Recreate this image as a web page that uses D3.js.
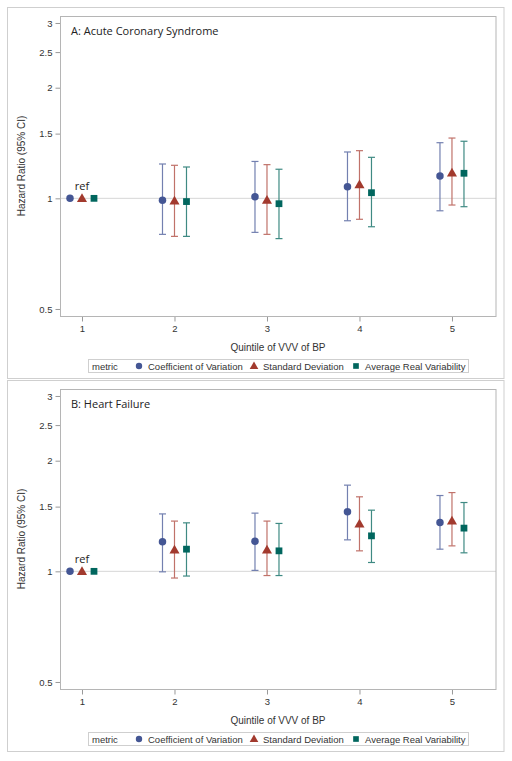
<!DOCTYPE html>
<html><head><meta charset="utf-8">
<script src="https://cdn.jsdelivr.net/npm/d3@7"></script>
<style>body{margin:0;background:#fff;} svg{display:block;}</style>
</head><body>
<svg id="chart" width="512" height="761"></svg>
<script>
// ---- data ----
const quintiles = [1, 2, 3, 4, 5];
const metrics = ["Coefficient of Variation", "Standard Deviation", "Average Real Variability"];
const yTicks = [0.5, 1, 1.5, 2, 2.5, 3];
const yTickLabels = ["0.5", "1", "1.5", "2", "2.5", "3"];
const xTickLabels = ["1", "2", "3", "4", "5"];
const panelTitles = ["A: Acute Coronary Syndrome", "B: Heart Failure"];

// Panel A: Acute Coronary Syndrome
const acsCV    = [1.00, 0.988, 1.010, 1.076, 1.150];
const acsCVlo  = [null, 0.798, 0.808, 0.869, 0.925];
const acsCVhi  = [null, 1.240, 1.260, 1.337, 1.417];
const acsSD    = [1.00, 0.985, 0.990, 1.090, 1.173];
const acsSDlo  = [null, 0.788, 0.798, 0.877, 0.959];
const acsSDhi  = [null, 1.230, 1.235, 1.348, 1.459];
const acsARV   = [1.00, 0.980, 0.967, 1.036, 1.170];
const acsARVlo = [null, 0.788, 0.777, 0.837, 0.949];
const acsARVhi = [null, 1.217, 1.200, 1.293, 1.430];

// Panel B: Heart Failure
const hfCV    = [1.00, 1.203, 1.207, 1.452, 1.358];
const hfCVlo  = [null, 0.997, 1.006, 1.218, 1.149];
const hfCVhi  = [null, 1.433, 1.440, 1.716, 1.608];
const hfSD    = [1.00, 1.144, 1.144, 1.347, 1.372];
const hfSDlo  = [null, 0.959, 0.974, 1.137, 1.173];
const hfSDhi  = [null, 1.370, 1.370, 1.595, 1.638];
const hfARV   = [1.00, 1.149, 1.137, 1.249, 1.311];
const hfARVlo = [null, 0.971, 0.974, 1.057, 1.123];
const hfARVhi = [null, 1.355, 1.350, 1.467, 1.539];

// ---- styling ----
const colors = ["#445694", "#A23A2E", "#01665E"];
const barColors = ["#7380b0", "#c0726a", "#3f8a83"];
const shapes = [d3.symbolCircle, d3.symbolTriangle, d3.symbolSquare];
const shapeSizes = [44, 44, 46];
const offsets = [-12, 0, 12];
const sansA = "'Liberation Sans', Arial, sans-serif";
const sansT = "'Open Sans', 'Noto Sans', sans-serif";

const svg = d3.select("#chart");

function drawPanel(top, title, series) {
  const g = svg.append("g").attr("transform", `translate(0,${top})`);
  // outer frame
  g.append("rect").attr("x", 7.5).attr("y", 7.5).attr("width", 496.5).attr("height", 371)
    .attr("fill", "none").attr("stroke", "#cfcfcf");

  const plotL = 61, plotR = 496, plotT = 16, plotB = 316;
  const x = d3.scaleLinear().domain([0.773, 5.476]).range([plotL, plotR]);
  const y = d3.scaleLog().domain([0.4785, 3.134]).range([plotB, plotT]);

  // reference line at HR = 1
  g.append("line").attr("x1", plotL).attr("x2", plotR)
    .attr("y1", y(1)).attr("y2", y(1)).attr("stroke", "#d6d6d6").attr("stroke-width", 1);

  // axes
  const yAxis = d3.axisLeft(y).tickValues(yTicks).tickFormat((d, i) => yTickLabels[i]).tickSize(5).tickPadding(3);
  const ya = g.append("g").attr("transform", `translate(${plotL - 0.5},0)`).call(yAxis);
  const xAxis = d3.axisBottom(x).tickValues(quintiles).tickFormat((d, i) => xTickLabels[i]).tickSize(5).tickPadding(4);
  const xa = g.append("g").attr("transform", `translate(0,${plotB + 0.5})`).call(xAxis);
  [ya, xa].forEach(a => {
    a.select(".domain").remove();
    a.selectAll(".tick line").attr("stroke", "#999");
    a.selectAll(".tick text").attr("fill", "#333").style("font-family", sansA).style("font-size", "9.5px");
  });

  // plot frame
  g.append("rect").attr("x", plotL - 0.5).attr("y", plotT + 0.5).attr("width", plotR - plotL + 0.5).attr("height", plotB - plotT)
    .attr("fill", "none").attr("stroke", "#b5b5b5");

  // title
  g.append("text").attr("x", 71).attr("y", 35).text(title)
    .style("font-family", sansT).style("font-size", "11px").attr("fill", "#222");

  // error bars + markers
  series.forEach((s, k) => {
    const pts = quintiles.map((q, i) => ({ q, hr: s.hr[i], lo: s.lo[i], hi: s.hi[i] }));
    const sg = g.append("g");
    const cap = 3.5;
    pts.filter(d => d.lo != null).forEach(d => {
      const cx = x(d.q) + offsets[k];
      sg.append("line").attr("x1", cx).attr("x2", cx).attr("y1", y(d.lo)).attr("y2", y(d.hi))
        .attr("stroke", barColors[k]).attr("stroke-width", 1.2);
      [d.lo, d.hi].forEach(v => sg.append("line").attr("x1", cx - cap).attr("x2", cx + cap)
        .attr("y1", y(v)).attr("y2", y(v)).attr("stroke", barColors[k]).attr("stroke-width", 1.2));
    });
    sg.selectAll("path.m").data(pts).join("path").attr("class", "m")
      .attr("d", d3.symbol().type(shapes[k]).size(shapeSizes[k]))
      .attr("transform", d => `translate(${x(d.q) + offsets[k]},${y(d.hr) + (k === 1 ? 0.8 : 0)})`)
      .attr("fill", colors[k]);
  });

  // ref label
  g.append("text").attr("x", x(1)).attr("y", y(1) - 8).attr("text-anchor", "middle").text("ref")
    .style("font-family", sansT).style("font-size", "11px").attr("fill", "#222");

  // y title
  g.append("text").attr("transform", `translate(25,${(plotT + plotB) / 2}) rotate(-90)`)
    .attr("text-anchor", "middle").text("Hazard Ratio (95% CI)")
    .style("font-family", sansA).style("font-size", "10px").attr("fill", "#333");

  // x title
  g.append("text").attr("x", 278).attr("y", 351).attr("text-anchor", "middle").text("Quintile of VVV of BP")
    .style("font-family", sansA).style("font-size", "10px").attr("fill", "#333");

  // legend
  const lg = g.append("g");
  lg.append("rect").attr("x", 88.5).attr("y", 359.5).attr("width", 380).attr("height", 13)
    .attr("fill", "none").attr("stroke", "#cfcfcf");
  const ly = 369.5;
  lg.append("text").attr("x", 92).attr("y", ly).text("metric")
    .style("font-family", sansA).style("font-size", "9.5px").attr("fill", "#333");
  const markerX = [139, 254, 356];
  metrics.forEach((m, k) => {
    lg.append("path").attr("d", d3.symbol().type(shapes[k]).size(32))
      .attr("transform", `translate(${markerX[k]},${366 + (k === 1 ? 0.5 : 0)})`).attr("fill", colors[k]);
    lg.append("text").attr("x", markerX[k] + 9).attr("y", ly).text(m)
      .style("font-family", sansA).style("font-size", "9.5px").attr("fill", "#333");
  });
}

drawPanel(0, panelTitles[0], [
  { hr: acsCV, lo: acsCVlo, hi: acsCVhi },
  { hr: acsSD, lo: acsSDlo, hi: acsSDhi },
  { hr: acsARV, lo: acsARVlo, hi: acsARVhi }
]);
drawPanel(373, panelTitles[1], [
  { hr: hfCV, lo: hfCVlo, hi: hfCVhi },
  { hr: hfSD, lo: hfSDlo, hi: hfSDhi },
  { hr: hfARV, lo: hfARVlo, hi: hfARVhi }
]);
</script>
</body></html>
